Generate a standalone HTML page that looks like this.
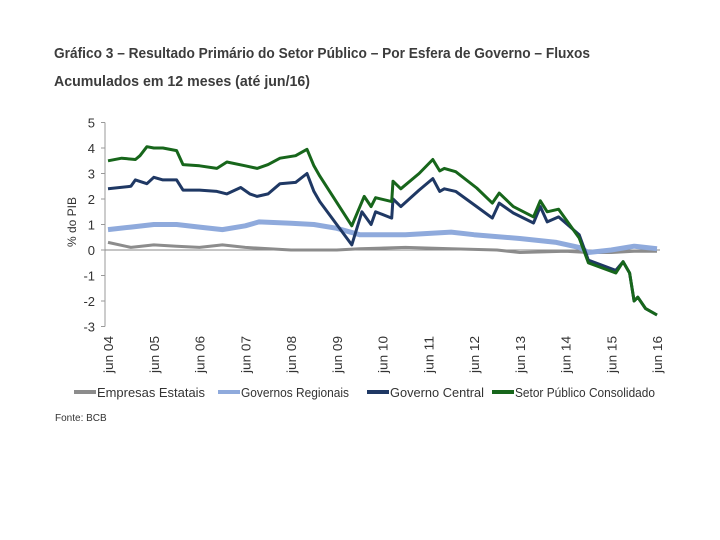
<!DOCTYPE html>
<html><head><meta charset="utf-8"><style>
body{margin:0;background:#fff;width:720px;height:540px;overflow:hidden;font-family:"Liberation Sans",sans-serif;}
</style></head><body>
<svg id="c" width="720" height="540" style="position:absolute;left:0;top:0">
<text x="54" y="58" font-size="15" font-weight="bold" fill="#3c3c3c" textLength="536" lengthAdjust="spacingAndGlyphs">Gráfico 3 – Resultado Primário do Setor Público – Por Esfera de Governo – Fluxos</text>
<text x="54" y="86" font-size="15" font-weight="bold" fill="#3c3c3c" textLength="256" lengthAdjust="spacingAndGlyphs">Acumulados em 12 meses (até jun/16)</text>
</svg>
<script>
const ticksY=[5,4,3,2,1,0,-1,-2,-3];
const xLabels=["jun 04","jun 05","jun 06","jun 07","jun 08","jun 09","jun 10","jun 11","jun 12","jun 13","jun 14","jun 15","jun 16"];
// time in years since jun/04
const estT=[0,0.5,1,1.5,2,2.5,3,4,5,5.5,6.5,7.5,8.5,9,10,10.5,11,11.5,12];
const estV=[0.3,0.1,0.2,0.15,0.1,0.2,0.1,0.0,0.0,0.05,0.1,0.05,0.0,-0.1,-0.05,-0.1,-0.1,-0.05,-0.05];
const regT=[0,0.5,1,1.5,2,2.5,3,3.3,4,4.5,5,5.5,6.5,7.5,8,9,9.8,10.3,10.5,11,11.5,12];
const regV=[0.8,0.9,1.0,1.0,0.9,0.8,0.95,1.1,1.05,1.0,0.85,0.6,0.6,0.7,0.6,0.45,0.3,0.1,-0.1,0.0,0.15,0.05];
const cenT=[0,0.5,0.6,0.85,1.0,1.2,1.5,1.64,2.0,2.38,2.6,2.9,3.1,3.26,3.5,3.76,4.1,4.35,4.5,4.63,5.33,5.55,5.75,5.85,6.2,6.23,6.4,6.8,7.1,7.25,7.35,7.6,8.06,8.4,8.55,8.86,9.3,9.45,9.6,9.85,10.3,10.5,11.1,11.26,11.4,11.5,11.58,11.75,12];
const cenV=[2.4,2.5,2.75,2.6,2.85,2.75,2.75,2.35,2.35,2.3,2.2,2.45,2.2,2.1,2.2,2.6,2.65,3.0,2.3,1.9,0.2,1.5,1.0,1.5,1.25,2.0,1.7,2.35,2.8,2.3,2.4,2.3,1.7,1.25,1.84,1.45,1.06,1.7,1.1,1.3,0.6,-0.4,-0.8,-0.46,-0.9,-2.0,-1.85,-2.3,-2.55];
const spT=[0,0.3,0.6,0.7,0.85,1.0,1.2,1.5,1.64,2.0,2.38,2.6,3.0,3.26,3.5,3.76,4.1,4.35,4.5,4.63,5.33,5.6,5.75,5.85,6.2,6.23,6.4,6.8,7.1,7.25,7.35,7.6,8.06,8.4,8.55,8.86,9.3,9.45,9.6,9.85,10.3,10.5,11.1,11.26,11.4,11.5,11.58,11.75,12];
const spV=[3.5,3.6,3.55,3.7,4.05,4.0,4.0,3.9,3.35,3.3,3.2,3.45,3.3,3.2,3.35,3.6,3.7,3.95,3.3,2.9,0.95,2.1,1.7,2.05,1.9,2.7,2.4,3.0,3.55,3.1,3.2,3.07,2.43,1.84,2.23,1.7,1.3,1.93,1.5,1.6,0.47,-0.5,-0.9,-0.46,-0.9,-2.0,-1.85,-2.3,-2.55];
const svg=document.getElementById('c');const NS='http://www.w3.org/2000/svg';
const X0=108,X1=657,Y5=122.5,Y3=326.5;
const sx=t=>X0+(X1-X0)*t/12;
const sy=v=>Y5+(5-v)*(Y3-Y5)/8;
function mk(tag,a,txt){const e=document.createElementNS(NS,tag);for(const k in a)e.setAttribute(k,a[k]);if(txt!=null)e.textContent=txt;svg.appendChild(e);return e;}
let ax=mk('line',{x1:105,y1:sy(5),x2:105,y2:sy(-3),stroke:'#999','stroke-width':1});


ticksY.forEach(v=>{
 const tk=mk('line',{x1:101,x2:105,y1:sy(v),y2:sy(v),stroke:'#999'});
 
 
 const l=mk('text',{x:95,y:sy(v)+5,'text-anchor':'end','font-size':13,fill:'#333'},String(v));
 
 
});
let zl=mk('line',{x1:105,x2:660,y1:sy(0),y2:sy(0),stroke:'#888','stroke-width':1});


let yt=mk('text',{x:0,y:0,transform:'translate(76,222) rotate(-90)','text-anchor':'middle','font-size':12,fill:'#333'},'% do PIB');


xLabels.forEach((s,i)=>{
 const x=sx(i)+5;
 const l=mk('text',{transform:`translate(${x},373) rotate(-90)`,'font-size':13,fill:'#333',textLength:37,lengthAdjust:'spacingAndGlyphs'},s);
 
 
});
function series(T,V,col,w,name){
 const d=T.map((t,i)=>(i?'L':'M')+sx(t).toFixed(1)+','+sy(V[i]).toFixed(1)).join(' ');
 const p=mk('path',{d:d,fill:'none',stroke:col,'stroke-width':w,'stroke-linejoin':'round'});
 
 
}
series(estT,estV,'#8c8c8c',3,'series-empresas-estatais');
series(regT,regV,'#8faadc',5,'series-governos-regionais');
series(cenT,cenV,'#1f3864',3,'series-governo-central');
series(spT,spV,'#17661b',3,'series-setor-publico');
const leg=[["Empresas Estatais","#8c8c8c",74,108],["Governos Regionais","#8faadc",218,108],["Governo Central","#1f3864",367,94],["Setor Público Consolidado","#17661b",492,140]];
leg.forEach(([s,c,x,w])=>{
 const r=mk('rect',{x:x,y:390,width:22,height:4,fill:c});
 
 
 const t=mk('text',{x:x+23,y:397,'font-size':13,fill:'#333',textLength:w,lengthAdjust:'spacingAndGlyphs'},s);
 
 
});
let f=mk('text',{x:55,y:421,'font-size':10,fill:'#333'},'Fonte: BCB');


</script>
</body></html>
